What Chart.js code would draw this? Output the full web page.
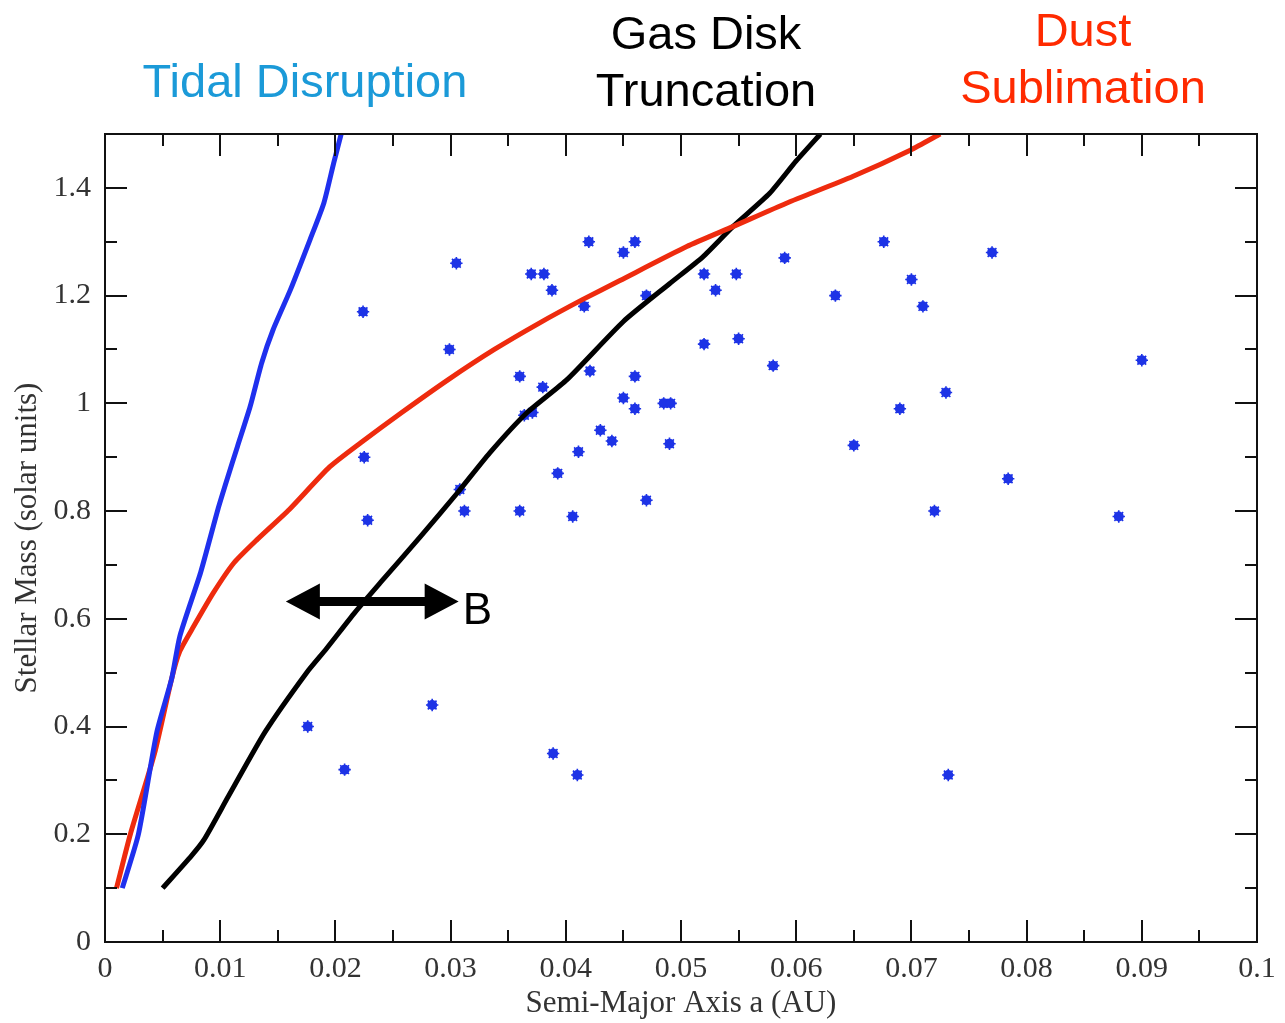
<!DOCTYPE html>
<html>
<head>
<meta charset="utf-8">
<script src="https://cdn.jsdelivr.net/npm/chart.js@4/dist/chart.umd.min.js"></script>
<style>
  body { margin: 0; background: #fff; }
  #wrap { width: 1285px; height: 1023px; }
</style>
</head>
<body>
<div id="wrap"><canvas id="planetChart" width="1285" height="1023"></canvas></div>
<script>
// tick labels
const xTickVals = [0, 0.01, 0.02, 0.03, 0.04, 0.05, 0.06, 0.07, 0.08, 0.09, 0.1];
const yTickVals = [0, 0.2, 0.4, 0.6, 0.8, 1.0, 1.2, 1.4];

// observed planets (semi-major axis AU, stellar mass)
const planetA = [0.0176,0.0208,0.0284,0.0389,0.0410,0.0732,0.0228,0.0312,0.0360,0.0406,
  0.0470,0.0720,0.0880,0.0784,0.0308,0.0393,0.0225,0.0411,0.0440,0.0430,
  0.0490,0.0650,0.0364,0.0371,0.0460,0.0690,0.0485,0.0491,0.0450,0.0730,
  0.0380,0.0360,0.0460,0.0421,0.0580,0.0900,0.0299,0.0520,0.0550,0.0224,
  0.0416,0.0710,0.0470,0.0634,0.0388,0.0530,0.0700,0.0370,0.0381,0.0520,
  0.0548,0.0305,0.0590,0.0450,0.0770,0.0420,0.0460,0.0676];
const planetM = [0.40,0.32,0.44,0.35,0.31,0.31,0.783,0.80,0.80,0.79,
  0.82,0.80,0.79,0.86,0.84,0.87,0.90,0.91,0.93,0.95,
  0.925,0.922,0.978,0.983,0.99,0.99,1.00,1.00,1.01,1.02,
  1.03,1.05,1.05,1.06,1.07,1.08,1.10,1.11,1.12,1.17,
  1.18,1.18,1.20,1.20,1.21,1.21,1.23,1.24,1.24,1.24,
  1.24,1.26,1.27,1.28,1.28,1.30,1.30,1.30];

// tidal disruption limit
const tidalA = [0.0015,0.0029,0.0045,0.0058,0.0065,0.0083,0.0098,0.0106,0.0115,0.0126,0.0136,0.0146,0.0161,0.0178,0.0190,0.01985,0.0205];
const tidalM = [0.10,0.20,0.39,0.49,0.568,0.686,0.803,0.859,0.920,0.994,1.075,1.137,1.211,1.304,1.372,1.446,1.50];

// gas disk truncation
const gasA = [0.005,0.0075,0.0086,0.0107,0.0139,0.0175,0.0192,0.0217,0.0239,0.0274,0.0306,0.0334,0.0366,0.0401,0.0450,0.0490,0.0519,0.0545,0.0577,0.0600,0.0621];
const gasM = [0.10,0.16,0.19,0.27,0.39,0.50,0.544,0.612,0.667,0.753,0.834,0.908,0.982,1.044,1.152,1.222,1.272,1.328,1.39,1.45,1.50];

// dust sublimation
const dustA = [0.001,0.0022,0.0043,0.0058,0.0065,0.0077,0.0094,0.0112,0.0132,0.0160,0.0195,0.0222,0.0257,0.0298,0.0338,0.0377,0.0414,0.0447,0.0505,0.0545,0.0592,0.0649,0.0699,0.0725];
const dustM = [0.10,0.20,0.35,0.49,0.54,0.586,0.648,0.704,0.747,0.803,0.882,0.927,0.982,1.044,1.10,1.149,1.192,1.228,1.291,1.328,1.372,1.421,1.470,1.50];

// the "B" range arrow
const arrowB = [0.0157, 0.0307];
const arrowBMass = 0.632;

const toXY = (xs, ys) => xs.map((x, i) => ({x: x, y: ys[i]}));

const BLUE = '#1d33e6';
const serif = '"Liberation Serif", "Times New Roman", serif';
const sans = '"Liberation Sans", Arial, sans-serif';

// inside tick marks on all four sides + frame
const frameTicks = {
  id: 'frameTicks',
  afterDraw(chart) {
    const {ctx, chartArea: a, scales: {x, y}} = chart;
    ctx.save();
    ctx.strokeStyle = '#111';
    ctx.lineWidth = 2;
    ctx.beginPath();
    for (let v = 0; v <= 0.1001; v += 0.005) {
      const px = Math.round(x.getPixelForValue(v));
      const len = (Math.round(v * 1000) % 10 === 0) ? 22 : 12;
      ctx.moveTo(px, a.bottom); ctx.lineTo(px, a.bottom - len);
      ctx.moveTo(px, a.top); ctx.lineTo(px, a.top + len);
    }
    for (let v = 0; v <= 1.5001; v += 0.1) {
      const py = Math.round(y.getPixelForValue(v));
      const len = (Math.round(v * 10) % 2 === 0) ? 22 : 12;
      ctx.moveTo(a.left, py); ctx.lineTo(a.left + len, py);
      ctx.moveTo(a.right, py); ctx.lineTo(a.right - len, py);
    }
    ctx.stroke();
    ctx.strokeRect(a.left, a.top, a.right - a.left, a.bottom - a.top);
    ctx.restore();
  }
};

// arrow + region labels
const annotations = {
  id: 'annotations',
  afterDatasetsDraw(chart) {
    const {ctx, scales: {x, y}} = chart;
    const x0 = x.getPixelForValue(arrowB[0]);
    const x1 = x.getPixelForValue(arrowB[1]);
    const py = y.getPixelForValue(arrowBMass);
    const head = 34, half = 18, shaft = 4.5;
    ctx.save();
    ctx.fillStyle = '#000';
    ctx.beginPath();
    ctx.moveTo(x0, py);
    ctx.lineTo(x0 + head, py - half);
    ctx.lineTo(x0 + head, py - shaft);
    ctx.lineTo(x1 - head, py - shaft);
    ctx.lineTo(x1 - head, py - half);
    ctx.lineTo(x1, py);
    ctx.lineTo(x1 - head, py + half);
    ctx.lineTo(x1 - head, py + shaft);
    ctx.lineTo(x0 + head, py + shaft);
    ctx.lineTo(x0 + head, py + half);
    ctx.closePath();
    ctx.fill();
    ctx.font = '44px ' + sans;
    ctx.textAlign = 'left';
    ctx.textBaseline = 'alphabetic';
    ctx.fillText('B', x1 + 4, py + 22);
    ctx.restore();
  },
  afterDraw(chart) {
    const ctx = chart.ctx;
    ctx.save();
    ctx.font = '47px ' + sans;
    ctx.textAlign = 'center';
    ctx.textBaseline = 'alphabetic';
    ctx.fillStyle = '#1b9ad8';
    ctx.fillText('Tidal Disruption', 305, 97);
    ctx.fillStyle = '#000';
    ctx.fillText('Gas Disk', 706, 49);
    ctx.fillText('Truncation', 706, 106);
    ctx.fillStyle = '#ff2a00';
    ctx.fillText('Dust', 1083, 46);
    ctx.fillText('Sublimation', 1083, 103);
    ctx.restore();
  }
};

new Chart('planetChart', {
  type: 'scatter',
  data: {
    datasets: [
      {
        label: 'Tidal Disruption',
        data: toXY(tidalA, tidalM),
        showLine: true,
        borderColor: '#1f30ee',
        borderWidth: 5,
        pointRadius: 0,
        tension: 0.2
      },
      {
        label: 'Dust Sublimation',
        data: toXY(dustA, dustM),
        showLine: true,
        borderColor: '#ee2b0e',
        borderWidth: 5,
        pointRadius: 0,
        tension: 0.2
      },
      {
        label: 'Gas Disk Truncation',
        data: toXY(gasA, gasM),
        showLine: true,
        borderColor: '#000',
        borderWidth: 5,
        pointRadius: 0,
        tension: 0.2
      },
      {
        label: 'Planets',
        data: toXY(planetA, planetM),
        pointStyle: 'circle',
        pointRadius: 5,
        backgroundColor: BLUE,
        borderWidth: 0
      },
      {
        label: 'Planets (spikes)',
        data: toXY(planetA, planetM),
        pointStyle: 'star',
        pointRadius: 6.2,
        borderColor: BLUE,
        borderWidth: 1.6,
        backgroundColor: BLUE
      }
    ]
  },
  options: {
    responsive: false,
    animation: false,
    events: [],
    layout: { padding: { left: 0, top: 134, right: 28, bottom: 0 } },
    plugins: { legend: { display: false }, tooltip: { enabled: false } },
    scales: {
      x: {
        type: 'linear',
        min: 0,
        max: 0.1,
        afterFit(s) { s.height = 81; },
        afterBuildTicks(s) { s.ticks = xTickVals.map(v => ({value: v})); },
        grid: { display: false },
        border: { display: false },
        ticks: {
          padding: 1,
          color: '#333',
          font: { family: serif, size: 30 },
          maxRotation: 0,
          autoSkip: false,
          callback: v => String(Number(v.toFixed(3)))
        },
        title: {
          display: true,
          text: 'Semi-Major Axis a (AU)',
          color: '#333',
          font: { family: serif, size: 31 },
          padding: { top: 0, bottom: 1 }
        }
      },
      y: {
        type: 'linear',
        min: 0,
        max: 1.5,
        afterFit(s) { s.width = 105; },
        afterBuildTicks(s) { s.ticks = yTickVals.map(v => ({value: v})); },
        grid: { display: false },
        border: { display: false },
        ticks: {
          padding: 6,
          color: '#333',
          font: { family: serif, size: 30 },
          autoSkip: false,
          callback: v => String(Number(v.toFixed(2)))
        },
        title: {
          display: true,
          text: 'Stellar Mass (solar units)',
          color: '#333',
          font: { family: serif, size: 31 },
          padding: { top: 9, bottom: 0 }
        }
      }
    }
  },
  plugins: [frameTicks, annotations]
});
</script>
</body>
</html>
